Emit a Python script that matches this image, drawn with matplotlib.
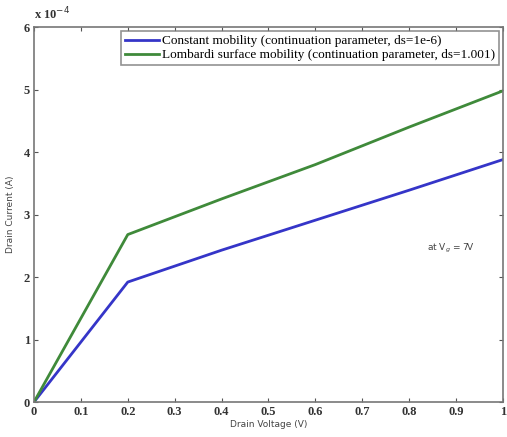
import matplotlib.pyplot as plt

# drain voltage (V) and drain current (x 1e-4 A)
vd = [0.0, 0.2, 0.4, 0.6, 0.8, 1.0]
id_const = [0.0, 1.92, 2.43, 2.91, 3.39, 3.88]
id_lomb = [0.0, 2.68, 3.25, 3.80, 4.40, 4.98]

xticks = [0, 0.1, 0.2, 0.3, 0.4, 0.5, 0.6, 0.7, 0.8, 0.9, 1]
xtick_labels = ['0', '0.1', '0.2', '0.3', '0.4', '0.5', '0.6', '0.7', '0.8', '0.9', '1']
yticks = [0, 1, 2, 3, 4, 5, 6]

fig = plt.figure(figsize=(5.07, 4.37), dpi=100)
ax = fig.add_axes([0.067, 0.080, 0.925, 0.858])

ax.plot(vd, id_const, color='#3535c8', lw=2,
        label='Constant mobility (continuation parameter, ds=1e-6)')
ax.plot(vd, id_lomb, color='#3f8a3a', lw=2,
        label='Lombardi surface mobility (continuation parameter, ds=1.001)')

ax.set_xlim(0, 1)
ax.set_ylim(0, 6)
ax.set_xticks(xticks)
ax.set_xticklabels(xtick_labels, family='Liberation Serif', fontsize=9, fontweight='bold')
ax.set_yticks(yticks)
ax.set_yticklabels([str(t) for t in yticks], family='Liberation Serif', fontsize=9, fontweight='bold')
ax.tick_params(direction='in', top=True, right=True, length=3, colors='#555555', labelcolor='#333333', pad=3)
for s in ax.spines.values():
    s.set_color('#777777')
    s.set_linewidth(1.2)

ax.set_xlabel('Drain Voltage (V)', fontsize=6.5, color='#444444', labelpad=1)
ax.set_ylabel('Drain Current (A)', fontsize=6.5, color='#444444', labelpad=6)

ax.text(0.0, 1.012, 'x 10$^{-4}$', transform=ax.transAxes, family='Liberation Serif',
        fontsize=9, fontweight='bold', color='#333333', ha='left', va='bottom')
ax.text(0.89, 2.45, 'at V$_g$ = 7V', fontsize=6.5, color='#444444', ha='center', va='center')

leg = ax.legend(loc='upper right', prop={'family': 'Liberation Serif', 'size': 9.5},
                fancybox=False, edgecolor='#777777', borderpad=0.3, handlelength=2.6,
                handletextpad=0.2, labelspacing=0.15, borderaxespad=0.3)
leg.get_frame().set_linewidth(1.2)

fig.savefig('out.png', dpi=100)
